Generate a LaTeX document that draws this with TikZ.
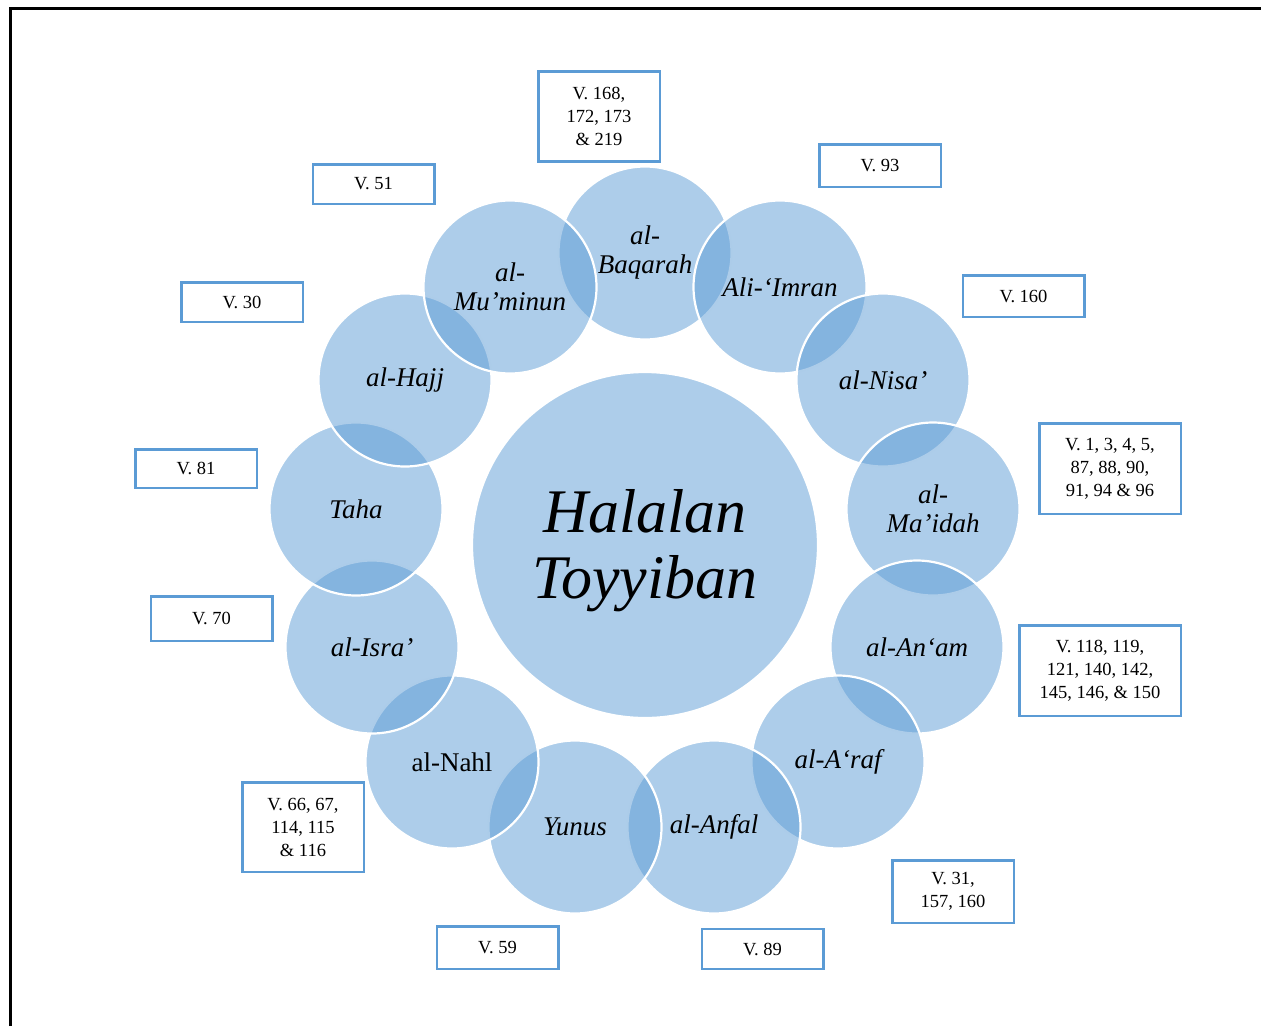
\documentclass[tikz,border=0pt]{standalone}
\usepackage{fontspec}
\setmainfont{Liberation Serif}
\usepackage{xcolor}
\usepackage{tikz}
\definecolor{surablue}{HTML}{5B9BD5}
\tikzset{
  sura/.style={shape=circle, fill=surablue, fill opacity=.5, text opacity=1, draw=white, line width=2.2pt, inner sep=0pt, minimum size=173pt, align=center, font=\fontsize{27}{29}\selectfont\itshape},
  hub/.style={sura, minimum size=346pt, font=\fontsize{62}{66}\selectfont\itshape},
  verse/.style={draw=surablue, line width=2.5pt, inner sep=0pt, minimum width=121.5pt, minimum height=40pt, align=center, font=\fontsize{18.5}{23}\selectfont}
}

\begin{document}
\begin{tikzpicture}[x=1pt,y=-1pt]

\useasboundingbox (0,0) rectangle (1261,1026);

% frame
\draw[line width=2.8pt] (10.3,1026) -- (10.3,8.7) -- (1261,8.7);

% centre
\node[hub] (c) at (645,545) {};
\node[font=\fontsize{62}{66}\selectfont\itshape, align=center] (ht) at (645,551) {Halalan\\Toyyiban};

% surahs
\node[sura] (b1) at (645,253) {al-\\Baqarah};
\node[sura] (b2) at (780,287) {Ali-‘Imran};
\node[sura] (b3) at (883,380) {al-Nisa’};
\node[sura] (b4) at (933,509) {al-\\Ma’idah};
\node[sura] (b5) at (917,647) {al-An‘am};
\node[sura] (b6) at (838,762) {al-A‘raf};
\node[sura] (b7) at (714,827) {al-Anfal};
\node[sura] (b8) at (575,827) {Yunus};
\node[sura, font=\fontsize{27}{29}\selectfont] (b9) at (452,762) {al-Nahl};
\node[sura] (b10) at (372,647) {al-Isra’};
\node[sura] (b11) at (356,509) {Taha};
\node[sura] (b12) at (405,380) {al-Hajj};
\node[sura] (b13) at (510,287) {al-\\Mu’minun};

%% verses
\node[verse, minimum height=90pt] (v1) at (599,116.5) {V. 168,\\172, 173\\\& 219};
\node[verse, minimum height=42.5pt] (v2) at (880,165.5) {V. 93};
\node[verse, minimum height=41.5pt] (v3) at (1023.5,296) {V. 160};
\node[verse, minimum width=141.5pt, minimum height=90.5pt] (v4) at (1110,468.5) {V. 1, 3, 4, 5,\\87, 88, 90,\\91, 94 \& 96};
\node[verse, minimum width=161.5pt, minimum height=90.5pt] (v5) at (1100,670.5) {V. 118, 119,\\121, 140, 142,\\145, 146, \& 150};
\node[verse, minimum height=62.5pt] (v6) at (953,891.5) {V. 31,\\157, 160};
\node[verse] (v7) at (762.5,949) {V. 89};
\node[verse, minimum height=42.5pt] (v8) at (497.5,947.5) {V. 59};
\node[verse, minimum height=89.5pt] (v9) at (303,827) {V. 66, 67,\\114, 115\\\& 116};
\node[verse, minimum height=44.5pt] (v10) at (211.5,618.5) {V. 70};
\node[verse, minimum height=38.5pt] (v11) at (196,468.5) {V. 81};
\node[verse, minimum height=39.5pt] (v12) at (242,302) {V. 30};
\node[verse, minimum height=39.5pt] (v13) at (373.5,184) {V. 51};

\end{tikzpicture}
\end{document}
